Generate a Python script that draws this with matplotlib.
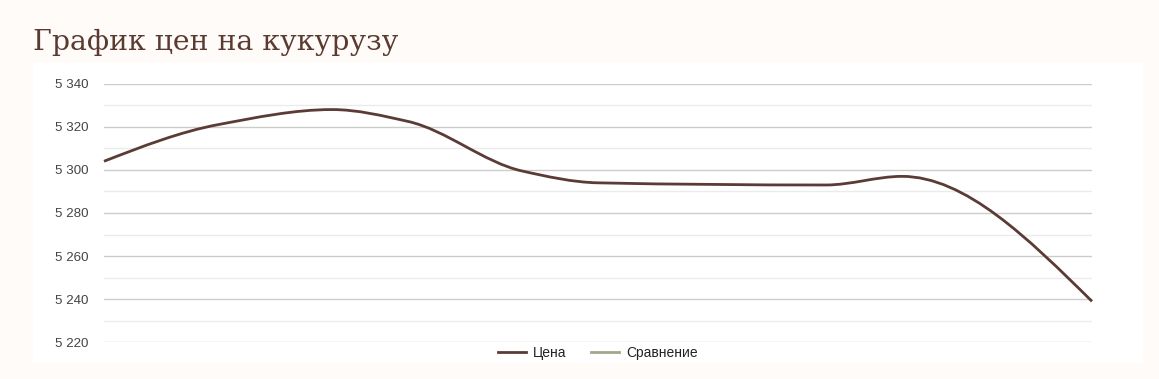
import numpy as np
import matplotlib
matplotlib.use("Agg")
import matplotlib.pyplot as plt
from matplotlib.path import Path
from matplotlib.patches import PathPatch
from matplotlib.lines import Line2D

# data (day offset, price)
days = [0, 3, 6, 8, 11, 13, 19, 21, 26]
price = [5304, 5321, 5328, 5322.5, 5299.5, 5294, 5293, 5297, 5239]
series_names = ["Цена", "Сравнение"]
series_colors = ["#5b3b35", "#a3a68c"]
yticks = [5220, 5240, 5260, 5280, 5300, 5320, 5340]


def smooth_path(x, y):
    # monotone cubic bezier through the points (flat at local peaks)
    x = np.asarray(x, float)
    y = np.asarray(y, float)
    n = len(x)
    h = np.diff(x)
    d = np.diff(y) / h
    m = np.zeros(n)
    for i in range(1, n - 1):
        if d[i - 1] * d[i] > 0:
            w1 = 2 * h[i] + h[i - 1]
            w2 = h[i] + 2 * h[i - 1]
            m[i] = (w1 + w2) / (w1 / d[i - 1] + w2 / d[i])
    m[0] = 1.5 * d[0] - 0.5 * m[1]
    m[-1] = 1.5 * d[-1] - 0.5 * m[-2]
    verts = [(x[0], y[0])]
    codes = [Path.MOVETO]
    for i in range(n - 1):
        s = h[i] / 3
        verts += [(x[i] + s, y[i] + m[i] * s),
                  (x[i + 1] - s, y[i + 1] - m[i + 1] * s),
                  (x[i + 1], y[i + 1])]
        codes += [Path.CURVE4] * 3
    return Path(verts, codes)


W, H = 1159, 379
fig = plt.figure(figsize=(W / 100, H / 100), dpi=100)
fig.patch.set_facecolor("#fffbf8")

# white card behind the chart
card = fig.add_axes([33 / W, 1 - 363 / H, 1110 / W, 300 / H])
card.set_facecolor("white")
card.set_xticks([])
card.set_yticks([])
for s in card.spines.values():
    s.set_visible(False)
card.set_zorder(0)

fig.text(33 / W, 1 - 50 / H, "График цен на кукурузу", fontsize=20.4,
         family="DejaVu Serif", color="#5a3a31", va="baseline", ha="left")

ax = fig.add_axes([104 / W, 1 - 342.3 / H, 988 / W, 258.6 / H])
ax.set_zorder(1)
ax.set_facecolor("none")
ax.set_xlim(days[0], days[-1])
ax.set_ylim(5220, 5340)
for s in ax.spines.values():
    s.set_visible(False)
ax.set_xticks([])
ax.set_yticks(yticks)
ax.set_yticklabels([f"{v:,}".replace(",", " ") for v in yticks],
                   fontsize=9.6, family="Liberation Sans", color="#444444")
ax.set_yticks([5230, 5250, 5270, 5290, 5310, 5330], minor=True)
ax.tick_params(axis="y", which="both", length=0, pad=11)
ax.grid(True, which="major", axis="y", color="#cccccc", linewidth=1)
ax.grid(True, which="minor", axis="y", color="#ebebeb", linewidth=1)
ax.set_axisbelow(True)

curve = PathPatch(smooth_path(days, price), facecolor="none",
                  edgecolor=series_colors[0], linewidth=2, clip_on=False,
                  zorder=3)
ax.add_patch(curve)

handles = [Line2D([], [], color=c, linewidth=2) for c in series_colors]
leg = fig.legend(handles, series_names, loc="center", ncol=2,
                 bbox_to_anchor=(598 / W, 1 - 353 / H), frameon=False,
                 prop={"family": "Liberation Sans", "size": 10},
                 handlelength=2.0, handletextpad=0.5, columnspacing=1.8,
                 labelcolor="#222222")
leg.set_zorder(5)

fig.savefig("out.png", dpi=100, facecolor=fig.get_facecolor())
